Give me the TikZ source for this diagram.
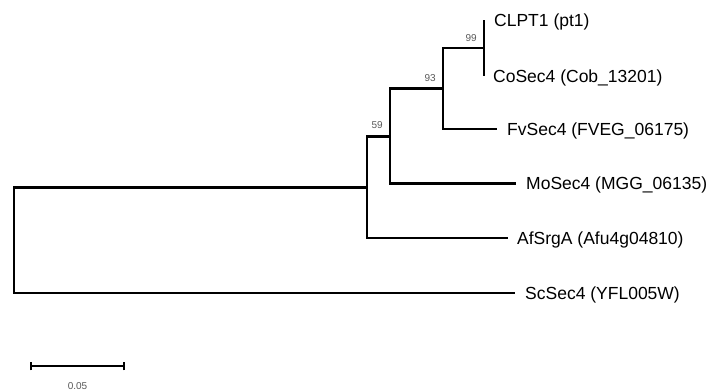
\documentclass[tikz,border=0pt]{standalone}
\usepackage{fontspec}
\setmainfont{Liberation Sans}
\begin{document}
\begin{tikzpicture}[x=1bp,y=-1bp,
  branch/.style={line width=2.9bp, line join=miter},
  leaf/.style={anchor=base west, inner sep=0pt, font=\fontsize{17.5bp}{20bp}\selectfont},
  boot/.style={anchor=east, inner sep=0pt, text=black!65, font=\fontsize{10bp}{11bp}\selectfont}]
\fill[white] (0,0) rectangle (712,391);
\useasboundingbox (0,0) rectangle (712,391);
% internal nodes
\coordinate (root) at (14,240);
\coordinate (A) at (367,187.5);
\coordinate (B) at (390,136.5);
\coordinate (C) at (443,88.5);
\coordinate (D) at (484,48);
% leaf ends
\coordinate (clE) at (484,20);
\coordinate (coE) at (484,76);
\coordinate (fvE) at (497,129);
\coordinate (moE) at (516,183.5);
\coordinate (afE) at (508,238);
\coordinate (scE) at (515,293);
% branches
\draw[branch] (root) |- (A);
\draw[branch] (root) |- (scE);
\draw[branch] (A) |- (B);
\draw[branch] (A) |- (afE);
\draw[branch] (B) |- (C);
\draw[branch] (B) |- (moE);
\draw[branch] (C) |- (D);
\draw[branch] (C) |- (fvE);
\draw[branch] (D) -- (clE);
\draw[branch] (D) -- (coE);
% leaf labels
\node[leaf] (cl) at ([shift={(10,6)}]clE) {CLPT1 (pt1)};
\node[leaf] (co) at ([shift={(9,6)}]coE) {CoSec4 (Cob\_13201)};
\node[leaf] (fv) at ([shift={(10,6)}]fvE) {FvSec4 (FVEG\_06175)};
\node[leaf] (mo) at ([shift={(10,6)}]moE) {MoSec4 (MGG\_06135)};
\node[leaf] (af) at ([shift={(9,6)}]afE) {AfSrgA (Afu4g04810)};
\node[leaf] (sc) at ([shift={(10,6)}]scE) {ScSec4 (YFL005W)};
% bootstrap values
\node[boot] (b99) at ([shift={(-7,-10)}]D) {99};
\node[boot] (b93) at ([shift={(-7,-10)}]C) {93};
\node[boot] (b59) at ([shift={(-7,-11.5)}]B) {59};
% scale bar
\coordinate (s1) at (31,366);
\coordinate (s2) at (124,366);
\draw[branch] (s1) -- (s2);
\draw[branch] ([yshift=-4.5]s1) -- ([yshift=4.5]s1);
\draw[branch] ([yshift=-4.5]s2) -- ([yshift=4.5]s2);
\node[inner sep=0pt, text=black!65, font=\fontsize{10bp}{11bp}\selectfont] (sl) at (77.5,386) {0.05};
\end{tikzpicture}
\end{document}
